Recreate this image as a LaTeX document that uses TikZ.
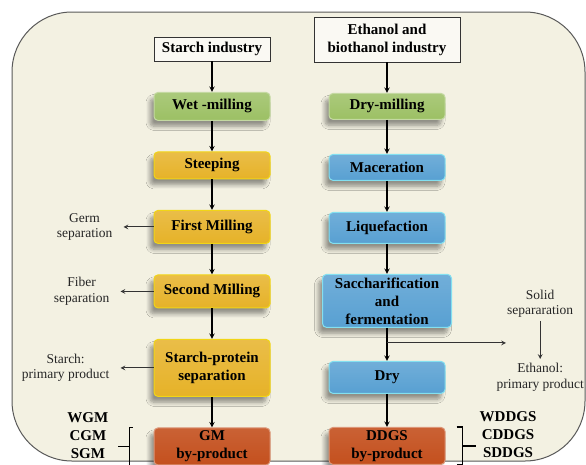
\documentclass[tikz,border=0pt]{standalone}
\usepackage{fontspec}
\setmainfont{Liberation Serif}
\usetikzlibrary{positioning,shadows.blur}

\definecolor{paper}{RGB}{243,241,226}
\definecolor{leaf}{RGB}{156,192,100}
\definecolor{gold}{RGB}{230,178,40}
\definecolor{sky}{RGB}{88,160,210}
\definecolor{rust}{RGB}{196,80,30}

\begin{document}
\begin{tikzpicture}
    [x=1pt,y=1pt,
    node distance=30.5pt,
    stage/.style={rectangle,rounded corners=4pt,line width=1pt,minimum width=116pt,
                  inner xsep=3pt,inner ysep=1.5pt,align=center,
                  font=\fontsize{15}{18}\selectfont\bfseries,
                  blur shadow={shadow xshift=-4pt,shadow yshift=-6pt,shadow blur radius=4pt,
                               shadow blur steps=8,shadow opacity=40}},
    greenstage/.style={stage,top color=leaf!85!white,bottom color=leaf,draw=leaf!60!white},
    goldstage/.style={stage,top color=gold!85!white,bottom color=gold,draw=gold!55!yellow},
    bluestage/.style={stage,top color=sky!85!white,bottom color=sky,draw=sky!55!cyan!60!white},
    redstage/.style={stage,top color=rust!90!white,bottom color=rust,draw=rust!60!white},
    source/.style={rectangle,draw=black!80,fill=paper!40!white,line width=.8pt,
                   minimum width=116pt,inner ysep=1.5pt,align=center,
                   font=\fontsize{15}{18}\selectfont\bfseries},
    side/.style={align=center,inner sep=1pt,text=black!85,font=\fontsize{13.5}{15.5}\selectfont},
    kinds/.style={align=center,inner sep=1pt,font=\fontsize{15}{18}\selectfont\bfseries},
    post/.style={->,>=stealth,line width=1.4pt},
    sidearrow/.style={->,>=stealth,line width=1.1pt,draw=black!80},
    bracket/.style={line width=1.2pt}]

    \useasboundingbox (0,0) rectangle (586,-464);
    \draw[draw=black!65,line width=1pt,fill=paper,rounded corners=60pt] (12,-12) rectangle (585,-461);

    \node[source,minimum height=24pt] (starch) at (212,-49) {Starch industry};
    \node[greenstage,minimum height=28pt] (wet) [below=of starch] {Wet -milling};
    \node[goldstage,minimum height=27pt] (steep) [below=of wet] {Steeping};
    \node[goldstage,minimum height=33pt] (first) [below=of steep] {First Milling};
    \node[goldstage,minimum height=33pt] (second) [below=of first] {Second Milling};
    \node[goldstage,minimum height=57pt] (sepprot) [below=of second] {Starch-protein\\separation};
    \node[redstage,minimum height=37pt] (gm) [below=of sepprot] {GM\\by-product};

    \node[source,minimum width=146pt,minimum height=45pt] (ethanol) at (387,-39.5) {Ethanol and\\biothanol industry};
    \node[greenstage,minimum height=26pt] (drymill) [below=30.5pt of ethanol] {Dry-milling};
    \node[bluestage,minimum height=26pt] (mac) [below=34pt of drymill] {Maceration};
    \node[bluestage,minimum height=31pt] (liq) [below=31pt of mac] {Liquefaction};
    \node[bluestage,minimum width=129pt,minimum height=53pt] (sacch) [below=30pt of liq] {Saccharification\\and\\fermentation};
    \node[bluestage,minimum height=32pt] (dry) [below=33pt of sacch] {Dry};
    \node[redstage,minimum height=37pt] (ddgs) [below=33pt of dry] {DDGS\\by-product};

    \path (starch) edge[post] (wet)
          (wet) edge[post] (steep)
          (steep) edge[post] (first)
          (first) edge[post] (second)
          (second) edge[post] (sepprot)
          (sepprot) edge[post] (gm);
    \path (ethanol) edge[post] (drymill)
          (drymill) edge[post] (mac)
          (mac) edge[post] (liq)
          (liq) edge[post] (sacch)
          (sacch) edge[post] (dry)
          (dry) edge[post] (ddgs);

    \node[side] (germ) [left=40pt of first] {Germ\\separation};
    \node[side] (fiber) [left=43pt of second] {Fiber\\separation};
    \node[side] (starchprod) [left=43pt of sepprot] {Starch:\\primary product};
    \draw[sidearrow,shorten >=10pt] (first) -- (germ);
    \draw[sidearrow,shorten >=10pt] (second) -- (fiber);
    \draw[sidearrow,shorten >=10pt] (sepprot) -- (starchprod);

    \node[kinds] (gmkinds) [left=44pt of gm,yshift=11pt] {WGM\\CGM\\SGM};
    \draw[bracket] ([xshift=-21pt]gm.north west) -| ([xshift=-24pt]gm.west) |- ([xshift=-21pt]gm.south west);
    \draw[bracket] ([xshift=-24pt]gm.west) -- ([xshift=-36pt]gm.west);

    \node[kinds] (ddgskinds) [right=33pt of ddgs,yshift=11pt] {WDDGS\\CDDGS\\SDDGS};
    \draw[bracket] ([xshift=11pt]ddgs.north east) -| ([xshift=17pt]ddgs.east) |- ([xshift=11pt]ddgs.south east);
    \draw[bracket] ([xshift=17pt]ddgs.east) -- ([xshift=30pt]ddgs.east);

    \coordinate[below=15pt of sacch] (split);
    \node[side] (solid) [right=54pt of sacch,yshift=-3pt] {Solid\\separaration};
    \node[side] (ethprod) [below=43pt of solid] {Ethanol:\\primary product};
    \draw[sidearrow] (split) -- (split -| solid.west);
    \draw[sidearrow,shorten <=2pt,shorten >=3pt] (solid) -- (ethprod);
\end{tikzpicture}
\end{document}
